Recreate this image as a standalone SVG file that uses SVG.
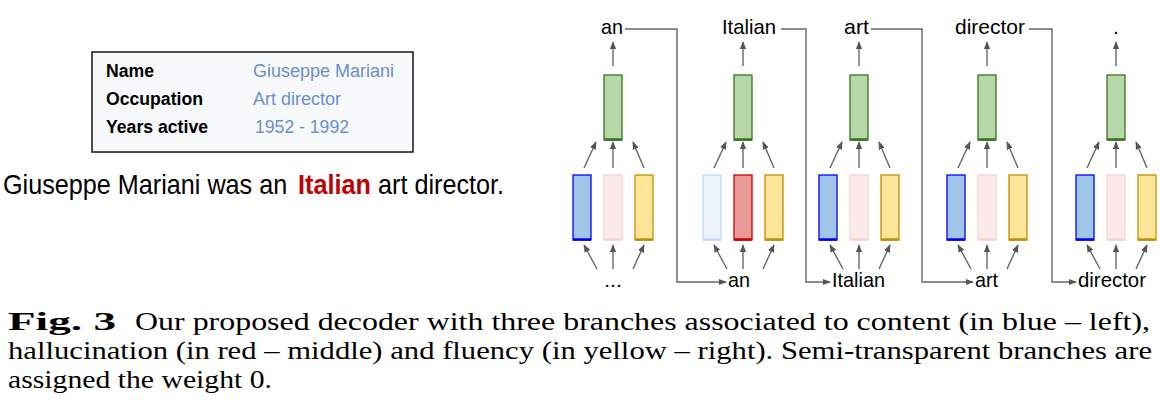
<svg xmlns="http://www.w3.org/2000/svg" width="1162" height="406" viewBox="0 0 1162 406">
<style>
.s{font-family:"Liberation Sans",Arial,sans-serif;fill:#000}
.w{font-size:21px}
.lbl{font-size:17.5px;font-weight:bold}
.val{font-size:18px;fill:#6a8fd0}
.cap{font-family:"Liberation Serif","Times New Roman",serif;font-size:26px;fill:#000}
.g{fill:#b6d7a8;stroke:#38761d;stroke-width:1.3}
.b{fill:#9fc5e8;stroke:#0000ff;stroke-width:1.3}
.bf{fill:#edf3fd;stroke:#cad9fa;stroke-width:1.3}
.r{fill:#ea9999;stroke:#cc0000;stroke-width:1.3}
.rf{fill:#fce9ea;stroke:#f5d5d7;stroke-width:1.3}
.y{fill:#ffe599;stroke:#bf9000;stroke-width:1.3}
.conn path{fill:none;stroke:#666;stroke-width:1.4;marker-end:url(#ah)}
</style>
<defs>
<marker id="ah" viewBox="0 0 10 10" refX="9" refY="5" markerWidth="8" markerHeight="8" markerUnits="userSpaceOnUse" orient="auto">
<path d="M0,1 L10,5 L0,9 z" fill="#555"/>
</marker>
</defs>
<rect width="1162" height="406" fill="#fff"/>

<g id="infobox">
<rect x="92" y="52" width="321" height="100" fill="#f8f9fa" stroke="#222" stroke-width="1.6"/>
<text class="s lbl" x="106" y="77" textLength="48" lengthAdjust="spacingAndGlyphs">Name</text>
<text class="s lbl" x="106" y="105" textLength="97" lengthAdjust="spacingAndGlyphs">Occupation</text>
<text class="s lbl" x="106" y="133" textLength="102" lengthAdjust="spacingAndGlyphs">Years active</text>
<text class="s val" x="253" y="77" textLength="141" lengthAdjust="spacingAndGlyphs">Giuseppe Mariani</text>
<text class="s val" x="253" y="105" textLength="88" lengthAdjust="spacingAndGlyphs">Art director</text>
<text class="s val" x="255" y="133" textLength="94" lengthAdjust="spacingAndGlyphs">1952 - 1992</text>
</g>

<g id="sentence" transform="translate(0,194) scale(1,1.13)">
<text class="s" x="3" y="0" font-size="25.2">Giuseppe Mariani was an</text>
<text class="s" x="298" y="0" font-size="25.2" font-weight="bold" style="fill:#c00000">Italian</text>
<text class="s" x="378" y="0" font-size="25.2">art director.</text>
</g>

<!-- column 1 -->
<g id="c1-green"><rect class="g" x="604" y="75" width="18" height="65"/><line x1="604" y1="139.5" x2="622" y2="139.5" stroke="#38761d" stroke-width="2.5"/></g>
<g id="c1-blue"><rect class="b" x="573" y="175" width="18" height="65"/><line x1="573" y1="239.5" x2="591" y2="239.5" stroke="#0000ff" stroke-width="2.5"/></g>
<g id="c1-red"><rect class="rf" x="604" y="175" width="18" height="65"/><line x1="604" y1="239.5" x2="622" y2="239.5" stroke="#f5d5d7" stroke-width="2.5"/></g>
<g id="c1-yellow"><rect class="y" x="635" y="175" width="18" height="65"/><line x1="635" y1="239.5" x2="653" y2="239.5" stroke="#bf9000" stroke-width="2.5"/></g>
<!-- column 2 -->
<g id="c2-green"><rect class="g" x="734" y="75" width="18" height="65"/><line x1="734" y1="139.5" x2="752" y2="139.5" stroke="#38761d" stroke-width="2.5"/></g>
<g id="c2-blue"><rect class="bf" x="703" y="175" width="18" height="65"/><line x1="703" y1="239.5" x2="721" y2="239.5" stroke="#cad9fa" stroke-width="2.5"/></g>
<g id="c2-red"><rect class="r" x="734" y="175" width="18" height="65"/><line x1="734" y1="239.5" x2="752" y2="239.5" stroke="#cc0000" stroke-width="2.5"/></g>
<g id="c2-yellow"><rect class="y" x="765" y="175" width="18" height="65"/><line x1="765" y1="239.5" x2="783" y2="239.5" stroke="#bf9000" stroke-width="2.5"/></g>
<!-- column 3 -->
<g id="c3-green"><rect class="g" x="850" y="75" width="18" height="65"/><line x1="850" y1="139.5" x2="868" y2="139.5" stroke="#38761d" stroke-width="2.5"/></g>
<g id="c3-blue"><rect class="b" x="819" y="175" width="18" height="65"/><line x1="819" y1="239.5" x2="837" y2="239.5" stroke="#0000ff" stroke-width="2.5"/></g>
<g id="c3-red"><rect class="rf" x="850" y="175" width="18" height="65"/><line x1="850" y1="239.5" x2="868" y2="239.5" stroke="#f5d5d7" stroke-width="2.5"/></g>
<g id="c3-yellow"><rect class="y" x="881" y="175" width="18" height="65"/><line x1="881" y1="239.5" x2="899" y2="239.5" stroke="#bf9000" stroke-width="2.5"/></g>
<!-- column 4 -->
<g id="c4-green"><rect class="g" x="978" y="75" width="18" height="65"/><line x1="978" y1="139.5" x2="996" y2="139.5" stroke="#38761d" stroke-width="2.5"/></g>
<g id="c4-blue"><rect class="b" x="947" y="175" width="18" height="65"/><line x1="947" y1="239.5" x2="965" y2="239.5" stroke="#0000ff" stroke-width="2.5"/></g>
<g id="c4-red"><rect class="rf" x="978" y="175" width="18" height="65"/><line x1="978" y1="239.5" x2="996" y2="239.5" stroke="#f5d5d7" stroke-width="2.5"/></g>
<g id="c4-yellow"><rect class="y" x="1009" y="175" width="18" height="65"/><line x1="1009" y1="239.5" x2="1027" y2="239.5" stroke="#bf9000" stroke-width="2.5"/></g>
<!-- column 5 -->
<g id="c5-green"><rect class="g" x="1107" y="75" width="18" height="65"/><line x1="1107" y1="139.5" x2="1125" y2="139.5" stroke="#38761d" stroke-width="2.5"/></g>
<g id="c5-blue"><rect class="b" x="1076" y="175" width="18" height="65"/><line x1="1076" y1="239.5" x2="1094" y2="239.5" stroke="#0000ff" stroke-width="2.5"/></g>
<g id="c5-red"><rect class="rf" x="1107" y="175" width="18" height="65"/><line x1="1107" y1="239.5" x2="1125" y2="239.5" stroke="#f5d5d7" stroke-width="2.5"/></g>
<g id="c5-yellow"><rect class="y" x="1138" y="175" width="18" height="65"/><line x1="1138" y1="239.5" x2="1156" y2="239.5" stroke="#bf9000" stroke-width="2.5"/></g>

<!-- words -->
<g id="out-an"><text class="s w" x="601" y="34" textLength="22" lengthAdjust="spacingAndGlyphs">an</text></g>
<g id="out-italian"><text class="s w" x="722" y="34" textLength="54" lengthAdjust="spacingAndGlyphs">Italian</text></g>
<g id="out-art"><text class="s w" x="844" y="34" textLength="25" lengthAdjust="spacingAndGlyphs">art</text></g>
<g id="out-director"><text class="s w" x="955" y="34" textLength="70" lengthAdjust="spacingAndGlyphs">director</text></g>
<g id="out-dot"><text class="s w" x="1116" y="34" text-anchor="middle">.</text></g>
<g id="in-dots"><text class="s w" x="613" y="287" text-anchor="middle">...</text></g>
<g id="in-an"><text class="s w" x="728" y="287" textLength="22" lengthAdjust="spacingAndGlyphs">an</text></g>
<g id="in-italian"><text class="s w" x="832" y="287" textLength="53" lengthAdjust="spacingAndGlyphs">Italian</text></g>
<g id="in-art"><text class="s w" x="975" y="287" textLength="23" lengthAdjust="spacingAndGlyphs">art</text></g>
<g id="in-director"><text class="s w" x="1078" y="287" textLength="68" lengthAdjust="spacingAndGlyphs">director</text></g>

<g id="connectors" class="conn">
<path d="M613,66 V42"/><path d="M743,66 V42"/><path d="M859,66 V42"/><path d="M987,66 V42"/><path d="M1116,66 V42"/>
<path d="M584,168 L596,142"/><path d="M613,168 V142"/><path d="M644,168 L633,142"/>
<path d="M714,168 L726,142"/><path d="M743,168 V142"/><path d="M774,168 L763,142"/>
<path d="M830,168 L842,142"/><path d="M859,168 V142"/><path d="M890,168 L879,142"/>
<path d="M958,168 L970,142"/><path d="M987,168 V142"/><path d="M1018,168 L1007,142"/>
<path d="M1087,168 L1099,142"/><path d="M1116,168 V142"/><path d="M1147,168 L1136,142"/>
<path d="M597,269 L584,245"/><path d="M613,269 V245"/><path d="M633,269 L644,245"/>
<path d="M727,269 L714,245"/><path d="M743,269 V245"/><path d="M763,269 L774,245"/>
<path d="M843,269 L830,245"/><path d="M859,269 V245"/><path d="M879,269 L890,245"/>
<path d="M971,269 L958,245"/><path d="M987,269 V245"/><path d="M1007,269 L1018,245"/>
<path d="M1100,269 L1087,245"/><path d="M1116,269 V245"/><path d="M1136,269 L1147,245"/>
<path d="M625,29 H677 V282 H726"/>
<path d="M781,29 H806 V282 H830"/>
<path d="M871,29 H922 V282 H973"/>
<path d="M1029,29 H1052 V282 H1076"/>
</g>

<g id="caption">
<text class="cap" x="8" y="330" font-weight="bold" textLength="108" lengthAdjust="spacingAndGlyphs">Fig. 3</text>
<text class="cap" x="135" y="330" textLength="1015" lengthAdjust="spacingAndGlyphs">Our proposed decoder with three branches associated to content (in blue – left),</text>
<text class="cap" x="8" y="359" textLength="1144" lengthAdjust="spacingAndGlyphs">hallucination (in red – middle) and fluency (in yellow – right). Semi-transparent branches are</text>
<text class="cap" x="8" y="388" textLength="264" lengthAdjust="spacingAndGlyphs">assigned the weight 0.</text>
</g>
</svg>
